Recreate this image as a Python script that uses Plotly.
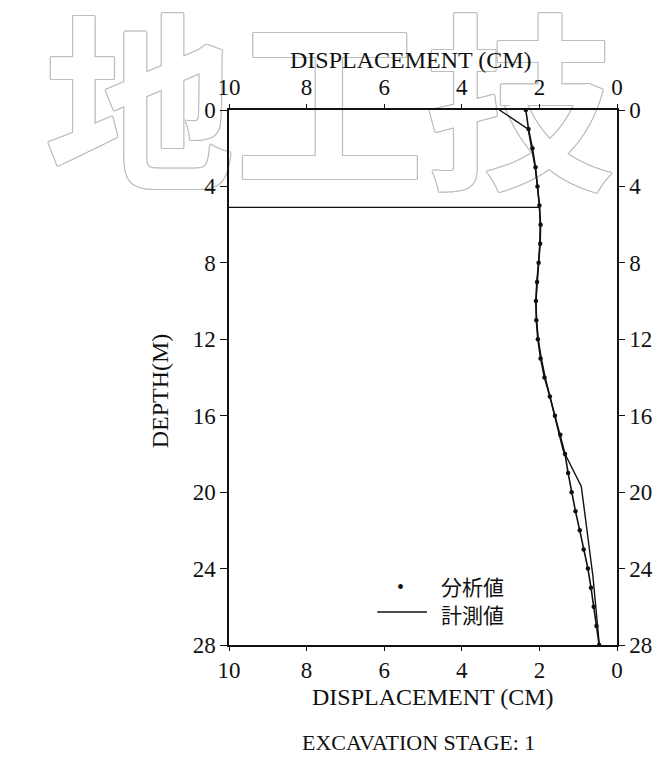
import numpy as np
import plotly.graph_objects as go

# Wall displacement profile, excavation stage 1
analysis_depth = list(range(0, 29))  # m
analysis_disp = [2.35, 2.28, 2.18, 2.10, 2.05, 2.00, 1.97, 1.98, 2.02, 2.06,
                 2.09, 2.08, 2.04, 1.97, 1.87, 1.73, 1.60, 1.46, 1.34, 1.26,
                 1.17, 1.07, 0.96, 0.86, 0.75, 0.67, 0.60, 0.53, 0.46]  # cm

measured_depth = [0, 1, 2, 3, 4, 5, 6, 7, 8, 9, 10, 11, 12, 13, 14, 15, 16, 17,
                  17.8, 19.7, 24.4, 27.9]
measured_disp = [3.03, 2.29, 2.20, 2.11, 2.05, 2.00, 1.98, 1.99, 2.02, 2.07,
                 2.09, 2.07, 2.03, 1.95, 1.85, 1.73, 1.60, 1.47, 1.39, 0.92,
                 0.62, 0.46]

excavation_depth = 5.1  # m

x_ticks = [0, 2, 4, 6, 8, 10]
y_ticks = [0, 4, 8, 12, 16, 20, 24, 28]

# plot-area frame in pixels
W, H = 665, 760
L, R, T, B = 229, 619, 110, 645


def px(x):
    return (x - L) / (R - L)


def py(y):
    return (B - y) / (B - T)


SERIF = "Liberation Serif, Times New Roman, serif"
CJK = "Noto Sans CJK JP, Noto Sans CJK TC, sans-serif"
INK = "#111111"

fig = go.Figure()

# excavation level line, from the wall face to the profile
exc_end = float(np.interp(excavation_depth, analysis_depth, analysis_disp))
fig.add_trace(go.Scatter(
    x=[10, exc_end], y=[excavation_depth, excavation_depth],
    mode="lines", line=dict(color=INK, width=1.3),
    showlegend=False, hoverinfo="skip"))

# measured profile (drawn on the top/right axis pair, same scales)
fig.add_trace(go.Scatter(
    x=measured_disp, y=measured_depth, mode="lines", name="計測値",
    xaxis="x2", yaxis="y2",
    line=dict(color=INK, width=1.4), showlegend=False))

# analysis profile
fig.add_trace(go.Scatter(
    x=analysis_disp, y=analysis_depth, mode="lines+markers", name="分析値",
    line=dict(color=INK, width=1.6),
    marker=dict(color=INK, size=4.5), showlegend=False))

axis_common = dict(
    showline=True, linecolor=INK, linewidth=1.5, showgrid=False,
    zeroline=False, ticks="outside", tickcolor=INK, tickwidth=1.3,
    tickfont=dict(family=SERIF, size=23, color=INK))

fig.update_layout(
    width=W, height=H,
    margin=dict(l=L, r=W - R, t=T, b=H - B, pad=0),
    paper_bgcolor="white", plot_bgcolor="white",
    xaxis=dict(range=[10, 0], tickvals=x_ticks, ticklen=4, side="bottom",
               anchor="y", **axis_common),
    xaxis2=dict(range=[10, 0], tickvals=x_ticks, ticklen=4, side="top",
                overlaying="x", anchor="y2", **axis_common),
    yaxis=dict(range=[28, 0], tickvals=y_ticks, ticklen=7, side="left",
               anchor="x", **axis_common),
    yaxis2=dict(range=[28, 0], tickvals=y_ticks, ticklen=6, side="right",
                overlaying="y", anchor="x2", **axis_common),
)

outline = ", ".join(f"{dx}px {dy}px 0 #bdbdbd" for dx, dy in
                    [(1.2, 0), (-1.2, 0), (0, 1.2), (0, -1.2),
                     (0.8, 0.8), (-0.8, -0.8), (0.8, -0.8), (-0.8, 0.8)])

# hollow watermark lettering behind the chart
fig.add_shape(
    type="rect", xref="paper", yref="paper", layer="below",
    x0=px(0), x1=px(660), y0=py(215), y1=py(30),
    line=dict(width=0), fillcolor="rgba(0,0,0,0)",
    label=dict(text="地工技", textposition="middle center",
               font=dict(family=CJK, size=190, color="white",
                         weight="bold", shadow=outline)))

ann = []
ann.append(dict(text="DISPLACEMENT (CM)", x=px(412), y=py(60)))
ann.append(dict(text="DISPLACEMENT (CM)", x=px(434), y=py(697)))
ann.append(dict(text="EXCAVATION STAGE: 1", x=px(419), y=py(742),
                size=22))
ann.append(dict(text="DEPTH(M)", x=px(160), y=py(391), textangle=-90))
for a in ann:
    fig.add_annotation(
        text=a["text"], x=a["x"], y=a["y"], xref="paper", yref="paper",
        xanchor="center", yanchor="middle",
        showarrow=False, textangle=a.get("textangle", 0),
        font=dict(family=SERIF, size=a.get("size", 24), color=INK))

# legend
fig.add_annotation(text="•", x=px(401), y=py(587), xref="paper",
                   yref="paper", xanchor="center", yanchor="middle",
                   showarrow=False,
                   font=dict(family=SERIF, size=20, color=INK))
fig.add_shape(type="line", xref="paper", yref="paper",
              x0=px(378), x1=px(428), y0=py(612), y1=py(612),
              line=dict(color=INK, width=1.4))
for label, ypix in [("分析値", 586), ("計測値", 614)]:
    fig.add_annotation(text=label, x=px(440), y=py(ypix), xref="paper",
                       yref="paper", xanchor="left", yanchor="middle",
                       showarrow=False,
                       font=dict(family=CJK, size=21, color=INK))

fig.write_html("out.html")
